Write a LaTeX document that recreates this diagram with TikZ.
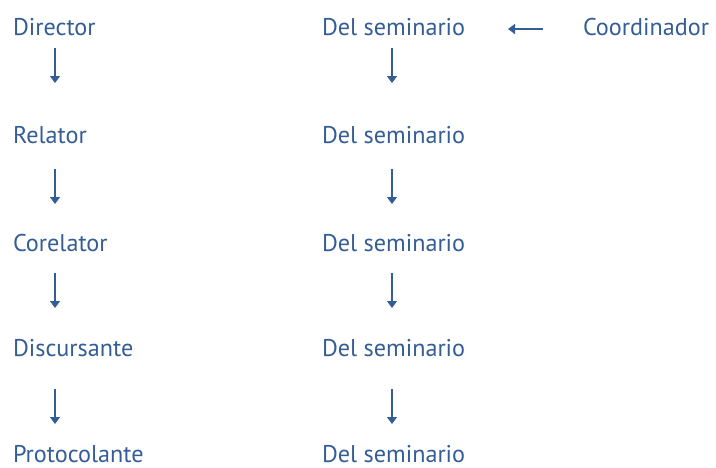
\documentclass[tikz,border=0pt]{standalone}
\usepackage{fontspec}
\setmainfont{PT Sans}
\usetikzlibrary{arrows.meta}
\definecolor{txtblue}{RGB}{52,93,150}
\tikzset{
  lbl/.style={anchor=base west, inner sep=0pt, outer sep=0pt, text depth=0pt, text=txtblue, font=\fontsize{24.2}{28}\selectfont},
  arr/.style={draw=txtblue, line width=1.1pt, -{Triangle[length=7pt,width=10pt]}}
}
\begin{document}
\begin{tikzpicture}[x=1pt,y=-1pt]
\useasboundingbox (0,0) rectangle (716,467);
\node[lbl] (d1) at (13,35) {Director};
\node[lbl] (d2) at (13,143) {Relator};
\node[lbl] (d3) at (13,251) {Corelator};
\node[lbl] (d4) at (13,356) {Discursante};
\node[lbl] (d5) at (13,462) {Protocolante};
\node[lbl] (s1) at (322,35) {Del seminario};
\node[lbl] (s2) at (322,143) {Del seminario};
\node[lbl] (s3) at (322,251) {Del seminario};
\node[lbl] (s4) at (322,356) {Del seminario};
\node[lbl] (s5) at (322,462) {Del seminario};
\node[lbl] (c) at (583,35) {Coordinador};
\coordinate (a1t) at (55,48);  \coordinate (a1b) at (55,83);
\coordinate (a2t) at (55,169); \coordinate (a2b) at (55,204);
\coordinate (a3t) at (55,273); \coordinate (a3b) at (55,308);
\coordinate (a4t) at (55,389); \coordinate (a4b) at (55,424);
\coordinate (b1t) at (392,48);  \coordinate (b1b) at (392,83);
\coordinate (b2t) at (392,169); \coordinate (b2b) at (392,204);
\coordinate (b3t) at (392,273); \coordinate (b3b) at (392,308);
\coordinate (b4t) at (392,389); \coordinate (b4b) at (392,424);
\coordinate (ch) at (543,29); \coordinate (ce) at (508,29);
\draw[arr] (a1t) -- (a1b);
\draw[arr] (a2t) -- (a2b);
\draw[arr] (a3t) -- (a3b);
\draw[arr] (a4t) -- (a4b);
\draw[arr] (b1t) -- (b1b);
\draw[arr] (b2t) -- (b2b);
\draw[arr] (b3t) -- (b3b);
\draw[arr] (b4t) -- (b4b);
\draw[arr] (ch) -- (ce);
\end{tikzpicture}
\end{document}
